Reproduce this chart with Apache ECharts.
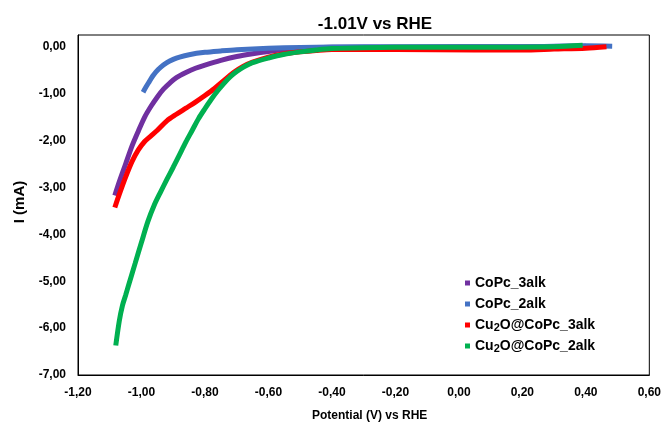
<!DOCTYPE html>
<html><head><meta charset="utf-8">
<script src="https://cdn.jsdelivr.net/npm/echarts@6/dist/echarts.min.js"></script>
<style>html,body{margin:0;padding:0;background:#fff}#c{width:664px;height:427px}</style>
</head><body><div id="c"></div>
<script>
var seriesNames = ['CoPc_3alk', 'CoPc_2alk', 'Cu\u2082O@CoPc_3alk', 'Cu\u2082O@CoPc_2alk'];
var seriesColors = ['#7030A0', '#4472C4', '#FF0000', '#00B050'];

var coPc3V = [-1.084, -1.07, -1.05, -1.03, -1.01, -0.99, -0.97, -0.95, -0.93, -0.91, -0.89, -0.86, -0.83, -0.80, -0.75, -0.70, -0.65, -0.60, -0.55, -0.50, -0.45, -0.40, -0.20, 0.00, 0.20, 0.40];
var coPc3I = [-3.17, -2.88, -2.50, -2.12, -1.80, -1.50, -1.27, -1.07, -0.90, -0.77, -0.66, -0.55, -0.46, -0.39, -0.29, -0.21, -0.15, -0.10, -0.06, -0.035, -0.02, -0.01, -0.01, 0.00, 0.00, 0.01];

var coPc2V = [-0.995, -0.985, -0.975, -0.965, -0.955, -0.94, -0.92, -0.90, -0.88, -0.85, -0.80, -0.75, -0.70, -0.60, -0.50, -0.40, -0.20, 0.00, 0.20, 0.40, 0.483];
var coPc2I = [-0.97, -0.85, -0.74, -0.63, -0.54, -0.44, -0.34, -0.27, -0.22, -0.17, -0.12, -0.09, -0.065, -0.035, -0.015, -0.005, 0.00, 0.00, 0.00, 0.02, 0.01];

var cu3V = [-1.084, -1.07, -1.05, -1.03, -1.01, -0.99, -0.97, -0.95, -0.92, -0.89, -0.86, -0.83, -0.80, -0.77, -0.74, -0.71, -0.68, -0.65, -0.60, -0.55, -0.50, -0.45, -0.40, -0.20, 0.05, 0.20, 0.30, 0.40, 0.465];
var cu3I = [-3.43, -3.15, -2.78, -2.45, -2.20, -2.02, -1.90, -1.78, -1.58, -1.44, -1.31, -1.18, -1.04, -0.89, -0.72, -0.55, -0.42, -0.33, -0.22, -0.15, -0.11, -0.08, -0.06, -0.06, -0.07, -0.07, -0.05, -0.03, 0.00];

var cu2V = [-1.081, -1.07, -1.06, -1.05, -1.04, -1.02, -1.00, -0.98, -0.96, -0.94, -0.92, -0.90, -0.88, -0.86, -0.84, -0.82, -0.80, -0.78, -0.76, -0.74, -0.72, -0.70, -0.68, -0.65, -0.60, -0.55, -0.50, -0.45, -0.40, -0.30, -0.10, 0.10, 0.30, 0.39];
var cu2I = [-6.37, -5.85, -5.52, -5.30, -5.07, -4.62, -4.17, -3.73, -3.38, -3.10, -2.83, -2.57, -2.30, -2.03, -1.78, -1.53, -1.32, -1.12, -0.94, -0.78, -0.64, -0.53, -0.44, -0.34, -0.24, -0.16, -0.11, -0.07, -0.04, -0.02, -0.01, -0.01, 0.00, 0.03];

var xTickMin = -1.2, xTickMax = 0.6, xTickStep = 0.2;
var yTickMin = -7, yTickMax = 0.25, yTickStep = 1;

function pairs(xs, ys) { return xs.map(function (x, i) { return [x, ys[i]]; }); }
function fmt(v) { return v.toFixed(2).replace('.', ','); }

var chart = echarts.init(document.getElementById('c'), null, {renderer: 'canvas'});
var font = 'Liberation Sans, Arial, sans-serif';
var dataSets = [pairs(coPc3V, coPc3I), pairs(coPc2V, coPc2I), pairs(cu3V, cu3I), pairs(cu2V, cu2I)];

chart.setOption({
  animation: false,
  backgroundColor: '#fff',
  title: {
    text: '-1.01V vs RHE', left: 370, top: 11, textAlign: 'center',
    textStyle: {fontFamily: font, fontWeight: 'bold', fontSize: 17, color: '#000'}
  },
  legend: {
    orient: 'vertical', left: 460, top: 270, itemWidth: 5, itemHeight: 5, itemGap: 5,
    icon: 'rect',
    data: seriesNames,
    formatter: function (n) {
      var i = n.indexOf('\u2082');
      if (i < 0) return n;
      return n.slice(0, i) + '{s|2}' + n.slice(i + 1);
    },
    textStyle: {fontFamily: font, fontWeight: 'bold', fontSize: 14, lineHeight: 16, color: '#000',
      rich: {s: {fontFamily: font, fontWeight: 'bold', fontSize: 11, color: '#000', padding: [5, 0, 0, 0]}}}
  },
  grid: {left: 78, right: 14, top: 35, bottom: 47, show: true, borderColor: '#000', borderWidth: 1, containLabel: false},
  xAxis: {
    type: 'value', min: xTickMin, max: xTickMax, interval: xTickStep,
    name: 'Potential (V) vs RHE', nameLocation: 'middle', nameGap: 35,
    nameTextStyle: {fontFamily: font, fontWeight: 'bold', fontSize: 12, color: '#000', padding: [0, 0, 0, 12]},
    axisLine: {onZero: false, lineStyle: {color: '#000', width: 1}},
    axisTick: {show: false}, splitLine: {show: false},
    axisLabel: {fontFamily: font, fontWeight: 'bold', fontSize: 12, color: '#000', margin: 12,
      formatter: function (v) { return fmt(v); }}
  },
  yAxis: {
    type: 'value', min: yTickMin, max: yTickMax, interval: yTickStep,
    name: 'I (mA)', nameLocation: 'middle', nameGap: 48, nameRotate: 90,
    nameTextStyle: {fontFamily: font, fontWeight: 'bold', fontSize: 15, color: '#000', padding: [0, 0, 0, 6]},
    axisLine: {onZero: false, lineStyle: {color: '#000', width: 1}},
    axisTick: {show: false}, splitLine: {show: false},
    axisLabel: {fontFamily: font, fontWeight: 'bold', fontSize: 12, color: '#000', margin: 12,
      showMaxLabel: false,
      formatter: function (v) { return Math.abs(v - Math.round(v)) < 1e-6 ? fmt(v) : ''; }}
  },
  series: seriesNames.map(function (n, i) {
    return {
      name: n, type: 'line', data: dataSets[i], smooth: 0.3, showSymbol: false, symbol: 'rect',
      itemStyle: {color: seriesColors[i]},
      lineStyle: {color: seriesColors[i], width: 5}, z: i === 3 ? 4 : 2 + i
    };
  })
});
</script></body></html>
